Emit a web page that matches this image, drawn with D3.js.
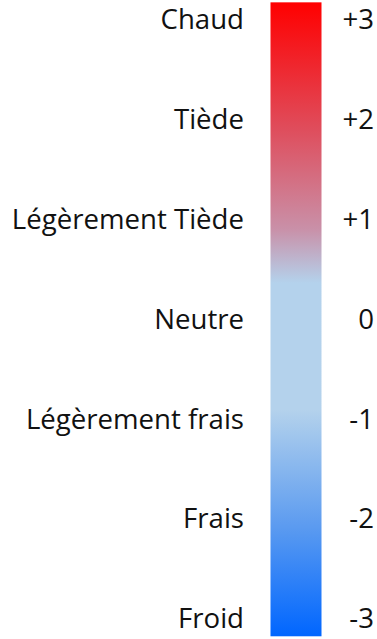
<!DOCTYPE html>
<html>
<head>
<meta charset="utf-8">
<script src="https://cdn.jsdelivr.net/npm/d3@7"></script>
<style>
  html, body { margin: 0; padding: 0; background: #ffffff; }
  text { font-family: "Open Sans", "Liberation Sans", sans-serif; fill: #111111; }
</style>
</head>
<body>
<svg id="chart" width="377" height="639"></svg>
<script>
// Thermal sensation scale: label, value and the colour ramp of the bar
const categories = ["Chaud", "Tiède", "Légèrement Tiède", "Neutre", "Légèrement frais", "Frais", "Froid"];
const values = [3, 2, 1, 0, -1, -2, -3];
const tickLabels = ["+3", "+2", "+1", "0", "-1", "-2", "-3"];

// Colour ramp stops along the value axis
const stopValues = [3.27, 2, 1, 0.46, -0.81, -2, -3.08];
const stopColors = ["#ff0000", "#df4d5c", "#c990a8", "#b4d2ec", "#b4d2ec", "#5a9af0", "#0066ff"];

const svg = d3.select("#chart");

// Text baselines sit on the value positions
const y = d3.scaleLinear().domain([3, -3]).range([29.3, 628.3]);

const barX = 270.5, barW = 51;
const barTop = y(d3.max(stopValues)), barBottom = y(d3.min(stopValues));

const grad = svg.append("defs").append("linearGradient")
  .attr("id", "ramp")
  .attr("gradientUnits", "userSpaceOnUse")
  .attr("x1", 0).attr("x2", 0)
  .attr("y1", barTop).attr("y2", barBottom);

grad.selectAll("stop")
  .data(stopValues)
  .join("stop")
  .attr("offset", d => (y(d) - barTop) / (barBottom - barTop))
  .attr("stop-color", (d, i) => stopColors[i]);

svg.append("rect")
  .attr("x", barX)
  .attr("y", barTop)
  .attr("width", barW)
  .attr("height", barBottom - barTop)
  .attr("fill", "url(#ramp)");

// Category names, right-aligned left of the bar
svg.append("g")
  .selectAll("text")
  .data(categories)
  .join("text")
  .attr("x", 244)
  .attr("y", (d, i) => y(values[i]))
  .attr("text-anchor", "end")
  .attr("font-size", 27.6)
  .text(d => d);

// Numeric values, right-aligned at the right edge
svg.append("g")
  .selectAll("text")
  .data(tickLabels)
  .join("text")
  .attr("x", 374)
  .attr("y", (d, i) => y(values[i]))
  .attr("text-anchor", "end")
  .attr("font-size", 27.6)
  .text(d => d);
</script>
</body>
</html>
